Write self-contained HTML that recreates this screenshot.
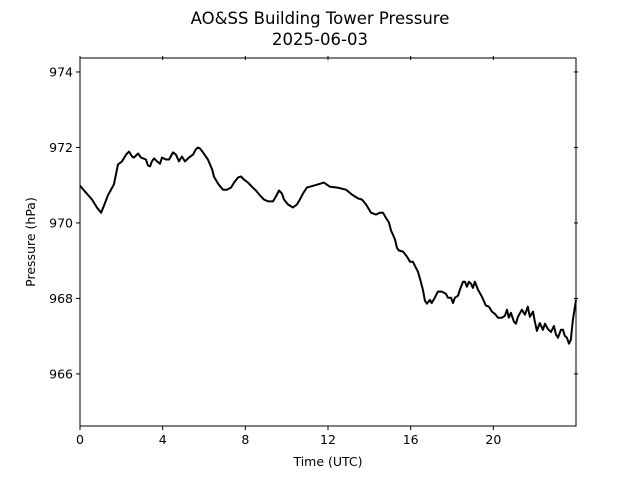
<!DOCTYPE html>
<html><head><meta charset="utf-8"><style>
body{margin:0;background:#fff}
svg text{font-family:"DejaVu Sans","Liberation Sans",sans-serif;fill:#000}
</style></head><body>
<svg id="chart" width="640" height="480" viewBox="0 0 640 480" xmlns="http://www.w3.org/2000/svg">
<rect width="640" height="480" fill="#fff"/>
<text x="320" y="24" font-size="16.5" text-anchor="middle">AO&amp;SS Building Tower Pressure</text>
<text x="320" y="45" font-size="16.5" text-anchor="middle">2025-06-03</text>
<g id="axes"></g>
<text x="328" y="466" font-size="12.5" text-anchor="middle">Time (UTC)</text>
<text x="0" y="0" font-size="12.5" text-anchor="middle" transform="translate(35,242) rotate(-90)">Pressure (hPa)</text>
</svg>
<script>
const hours=[0,.24,.58,.82,1.02,1.16,1.35,1.64,1.84,2.03,2.23,2.37,2.52,2.61,2.81,2.95,3.19,3.29,3.39,3.48,3.58,3.73,3.87,3.97,4.16,4.31,4.50,4.64,4.79,4.93,5.08,5.27,5.47,5.61,5.71,5.81,5.95,6.19,6.39,6.48,6.68,6.92,7.11,7.31,7.45,7.64,7.79,7.93,8.13,8.32,8.51,8.71,8.90,9.10,9.34,9.48,9.63,9.77,9.87,10.06,10.30,10.50,10.64,10.79,10.98,11.13,11.32,11.51,11.80,12.09,12.43,12.87,13.16,13.45,13.64,13.84,14.08,14.32,14.51,14.66,14.80,14.95,15.05,15.14,15.24,15.34,15.43,15.63,15.82,15.97,16.11,16.26,16.35,16.45,16.59,16.69,16.79,16.93,17.02,17.17,17.32,17.51,17.71,17.80,17.95,18.05,18.14,18.29,18.38,18.53,18.63,18.72,18.82,18.92,19.01,19.11,19.26,19.45,19.64,19.79,19.93,20.08,20.22,20.42,20.56,20.66,20.75,20.85,21.00,21.09,21.19,21.38,21.53,21.67,21.77,21.92,22.01,22.11,22.25,22.40,22.50,22.64,22.79,22.93,23.03,23.13,23.27,23.37,23.46,23.56,23.66,23.75,23.85,24.00];
const pressure=[970.99,970.83,970.62,970.41,970.27,970.46,970.73,971.02,971.55,971.63,971.81,971.89,971.76,971.73,971.84,971.73,971.68,971.52,971.50,971.63,971.71,971.63,971.57,971.73,971.68,971.68,971.87,971.81,971.63,971.76,971.63,971.73,971.81,971.95,972.00,971.97,971.87,971.68,971.42,971.23,971.04,970.88,970.88,970.94,971.07,971.20,971.23,971.15,971.07,970.96,970.86,970.73,970.62,970.57,970.57,970.70,970.86,970.78,970.62,970.49,970.41,970.49,970.62,970.78,970.94,970.96,970.99,971.02,971.07,970.96,970.94,970.88,970.75,970.65,970.62,970.49,970.27,970.22,970.27,970.27,970.14,970.01,969.80,969.69,969.56,969.34,969.27,969.24,969.11,968.97,968.97,968.81,968.71,968.52,968.23,967.94,967.86,967.96,967.88,968.02,968.18,968.18,968.12,968.02,968.02,967.88,968.02,968.07,968.23,968.44,968.44,968.31,968.44,968.39,968.28,968.44,968.23,968.04,967.81,967.78,967.65,967.59,967.49,967.49,967.54,967.70,967.49,967.62,967.38,967.33,967.51,967.70,967.57,967.78,967.51,967.65,967.38,967.14,967.35,967.17,967.33,967.19,967.11,967.27,967.04,966.96,967.17,967.17,967.01,966.96,966.80,966.90,967.43,967.96];
const xTicks=[0,4,8,12,16,20];
const yTicks=[966,968,970,972,974];
const X0=80,X1=576,Y0=426,Y1=58;
const xMin=0,xMax=24,yMin=964.62,yMax=974.37;
const sx=h=>X0+(h-xMin)/(xMax-xMin)*(X1-X0);
const sy=v=>Y0-(v-yMin)/(yMax-yMin)*(Y0-Y1);
const NS="http://www.w3.org/2000/svg";
const g=document.getElementById('axes');
function mk(tag,attrs){const e=document.createElementNS(NS,tag);for(const k in attrs)e.setAttribute(k,attrs[k]);g.appendChild(e);return e;}
const line=mk('polyline',{points:hours.map((h,i)=>sx(h).toFixed(1)+','+sy(pressure[i]).toFixed(1)).join(' '),fill:'none',stroke:'#000','stroke-width':2,'stroke-linejoin':'round'});


const frame=mk('rect',{x:X0,y:Y1,width:X1-X0,height:Y0-Y1,fill:'none',stroke:'#000','stroke-width':1});


xTicks.forEach(t=>{
  const x=sx(t);
  const tk=mk('line',{x1:x,x2:x,y1:Y0,y2:Y0+4,stroke:'#000'});
  
  
  const tt=mk('line',{x1:x,x2:x,y1:Y1-2,y2:Y1+2,stroke:'#000'});
  
  
  const lb=mk('text',{x:x,y:Y0+18,'font-size':12.5,'text-anchor':'middle'});
  lb.textContent=t;
  
  
});
yTicks.forEach(t=>{
  const y=sy(t);
  const tk=mk('line',{x1:X0-4,x2:X0,y1:y,y2:y,stroke:'#000'});
  
  
  const tr=mk('line',{x1:X1-2,x2:X1+2,y1:y,y2:y,stroke:'#000'});
  
  
  const lb=mk('text',{x:X0-7,y:y+4.5,'font-size':12.5,'text-anchor':'end'});
  lb.textContent=t;
  
  
});
</script>
</body></html>
